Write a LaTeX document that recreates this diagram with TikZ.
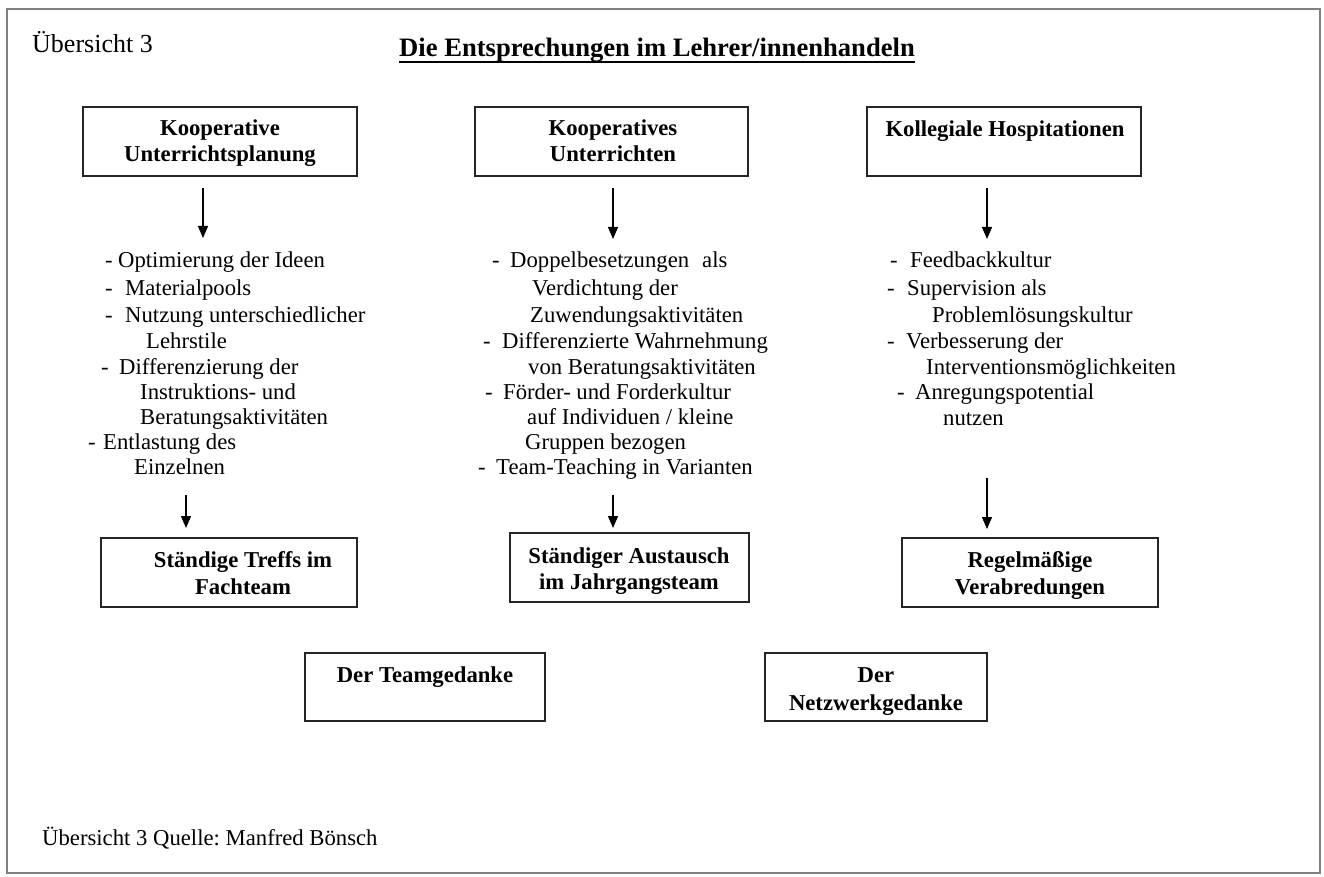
\documentclass[tikz,border=0pt]{standalone}
\usepackage{fontspec}
\setmainfont{Liberation Serif}
\usetikzlibrary{arrows.meta}
\newcommand\mydash[1]{\makebox[#1][l]{-}}
\frenchspacing
\begin{document}
\begin{tikzpicture}[x=1pt,y=-1pt,
  box/.style={draw=black!85,line width=1.5pt,inner sep=0pt},
  txt/.style={inner sep=0pt,anchor=base west,font=\fontsize{22.7}{26}\selectfont},
  bt/.style={inner sep=0pt,anchor=base,font=\fontsize{22.7}{26}\selectfont\bfseries},
  arr/.style={-{Triangle[width=10pt,length=12pt]},line width=1.3pt}]
\useasboundingbox (0,0) rectangle (1324,877);
\draw[black!50,line width=2pt] (7,9.5) rectangle (1320,873);
% header
\node[inner sep=0pt,anchor=base west,font=\fontsize{26}{30}\selectfont] (ueb) at (32,53) {Übersicht 3};
\node[inner sep=0pt,anchor=base west,font=\fontsize{26.6}{30}\selectfont\bfseries] (title) at (399,57) {Die Entsprechungen im Lehrer/innenhandeln};
\draw[line width=2pt] ([yshift=-5pt]title.base west) -- ([yshift=-5pt]title.base east);
% top boxes
\node[box,minimum width=274pt,minimum height=69pt] (b1) at (220,141.5) {};
\node[box,minimum width=273pt,minimum height=69pt] (b2) at (611.5,141.5) {};
\node[box,minimum width=274pt,minimum height=69pt] (b3) at (1004,141.5) {};
\node[bt] (b1a) at (220,136) {Kooperative};
\node[bt] (b1b) at (220,162) {Unterrichtsplanung};
\node[bt] (b2a) at (613,136) {Kooperatives};
\node[bt] (b2b) at (613,162) {Unterrichten};
\node[bt] (b3a) at (1005,137) {Kollegiale Hospitationen};
% top arrows
\coordinate (a1s) at (203,188); \coordinate (a1e) at (203,238);
\coordinate (a2s) at (613,188); \coordinate (a2e) at (613,239);
\coordinate (a3s) at (987,188); \coordinate (a3e) at (987,239);
\draw[arr] (a1s) -- (a1e);
\draw[arr] (a2s) -- (a2e);
\draw[arr] (a3s) -- (a3e);
% column 1
\node[txt] (c1a) at (105,268) {\mydash{13pt}Optimierung der Ideen};
\node[txt] (c1b) at (105,295) {\mydash{20pt}Materialpools};
\node[txt] (c1c) at (105,322) {\mydash{20pt}Nutzung unterschiedlicher};
\node[txt] (c1d) at (146,348) {Lehrstile};
\node[txt] (c1e) at (101,374) {\mydash{18pt}Differenzierung der};
\node[txt] (c1f) at (140,399) {Instruktions- und};
\node[txt] (c1g) at (140,424) {Beratungsaktivitäten};
\node[txt] (c1h) at (88,449) {\mydash{15pt}Entlastung des};
\node[txt] (c1i) at (134,474) {Einzelnen};
% column 2
\node[txt] (c2a) at (492,268) {\mydash{18pt}Doppelbesetzungen\hspace{13pt}als};
\node[txt] (c2b) at (532,295) {Verdichtung der};
\node[txt] (c2c) at (530,322) {Zuwendungsaktivitäten};
\node[txt] (c2d) at (483,348) {\mydash{19pt}Differenzierte Wahrnehmung};
\node[txt] (c2e) at (528,374) {von Beratungsaktivitäten};
\node[txt] (c2f) at (485,399) {\mydash{18pt}Förder- und Forderkultur};
\node[txt] (c2g) at (527,424) {auf Individuen / kleine};
\node[txt] (c2h) at (525,449) {Gruppen bezogen};
\node[txt] (c2i) at (478,474) {\mydash{18pt}Team-Teaching in Varianten};
% column 3
\node[txt] (c3a) at (890,268) {\mydash{20pt}Feedbackkultur};
\node[txt] (c3b) at (887,295) {\mydash{20pt}Supervision als};
\node[txt] (c3c) at (932,322) {Problemlösungskultur};
\node[txt] (c3d) at (887,348) {\mydash{19pt}Verbesserung der};
\node[txt] (c3e) at (926,374) {Interventionsmöglichkeiten};
\node[txt] (c3f) at (897,399) {\mydash{18pt}Anregungspotential};
\node[txt] (c3g) at (943,425) {nutzen};
% lower arrows
\coordinate (a4s) at (186,495); \coordinate (a4e) at (186,528);
\coordinate (a5s) at (613,495); \coordinate (a5e) at (613,528);
\coordinate (a6s) at (987,478); \coordinate (a6e) at (987,529);
\draw[arr] (a4s) -- (a4e);
\draw[arr] (a5s) -- (a5e);
\draw[arr] (a6s) -- (a6e);
% lower boxes
\node[box,minimum width=256pt,minimum height=69pt] (b4) at (229,572.5) {};
\node[box,minimum width=239pt,minimum height=69pt] (b5) at (629.5,567.5) {};
\node[box,minimum width=256pt,minimum height=69pt] (b6) at (1030,572.5) {};
\node[bt] (b4a) at (243,567) {Ständige Treffs im};
\node[bt] (b4b) at (243,594) {Fachteam};
\node[bt] (b5a) at (629,563) {Ständiger Austausch};
\node[bt] (b5b) at (629,589) {im Jahrgangsteam};
\node[bt] (b6a) at (1030,567) {Regelmäßige};
\node[bt] (b6b) at (1030,594) {Verabredungen};
% bottom boxes
\node[box,minimum width=240pt,minimum height=68pt] (b7) at (425,687) {};
\node[box,minimum width=222pt,minimum height=68pt] (b8) at (876,687) {};
\node[bt] (b7a) at (425,682) {Der Teamgedanke};
\node[bt] (b8a) at (876,682) {Der};
\node[bt] (b8b) at (876,710) {Netzwerkgedanke};
% footer
\node[txt] (foot) at (42,845) {Übersicht 3 Quelle: Manfred Bönsch};
\end{tikzpicture}
\end{document}
